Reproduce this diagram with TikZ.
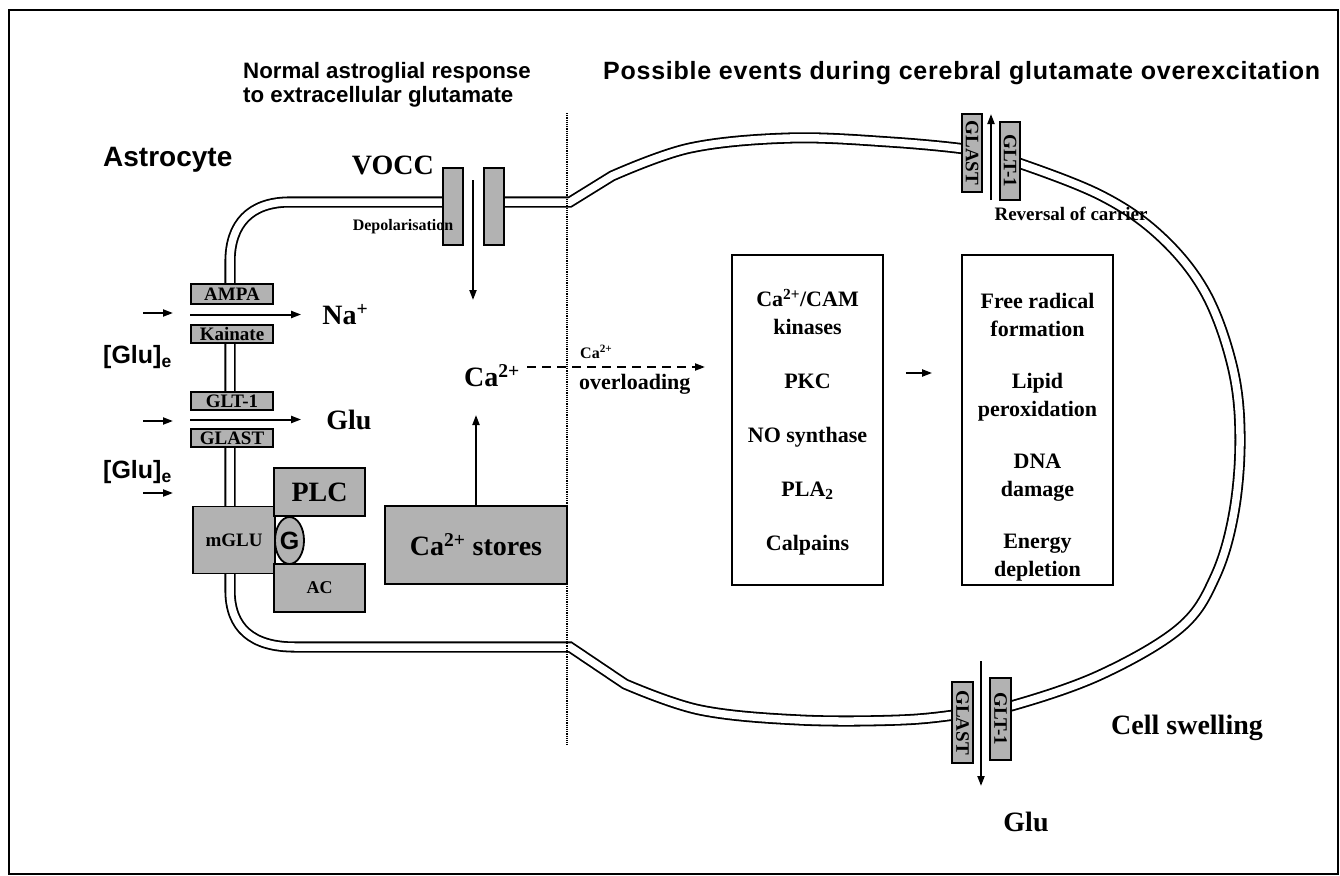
\documentclass[tikz,border=0pt]{standalone}
\usepackage{fontspec}
\setmainfont{Liberation Serif}
\setsansfont{Liberation Sans}
\usetikzlibrary{arrows.meta,calc,positioning,shapes.geometric}

\tikzset{
  mem/.style={line width=1.8pt, double distance=7.5pt, double=white},
  chan/.style={draw, line width=1.8pt, fill=black!30, inner sep=0pt,
    font=\bfseries\fontsize{19}{19}\selectfont},
  arr/.style={-{Triangle[length=10pt,width=7pt]}, line width=2pt},
  lbl/.style={font=\bfseries\fontsize{28}{30}\selectfont, inner sep=0pt},
  note/.style={font=\bfseries\fontsize{19}{22}\selectfont, inner sep=0pt},
  ttl/.style={font=\sffamily\bfseries\fontsize{22.3}{24}\selectfont, inner sep=0pt},
  glu/.style={font=\sffamily\bfseries\fontsize{25}{27}\selectfont, inner sep=0pt},
  evbox/.style={draw, line width=1.8pt, minimum width=151pt, minimum height=330pt,
    inner sep=0pt, align=center, font=\bfseries\fontsize{22}{28}\selectfont}
}

\begin{document}
\begin{tikzpicture}[x=1pt, y=-1pt]
  \useasboundingbox (0,0) rectangle (1340,875);
  % frame
  \draw[line width=2pt] (9,10) rectangle (1338,874);

  % headings
  \node[ttl, anchor=north west, align=left] (ttlA) at (243,62)
    {Normal astroglial response\\to extracellular glutamate};
  \node[ttl, anchor=west, font=\sffamily\bfseries\fontsize{25}{27}\selectfont\addfontfeature{LetterSpace=3}]
    (ttlB) at (603,73) {Possible events during cerebral glutamate overexcitation};

  % cell membrane
  \draw[mem] (570,647) -- (295,647) .. controls (252,647) and (230,628) .. (230,590)
    -- (230,262) .. controls (230,224) and (250,202) .. (290,202) -- (570,202)
    -- plot[smooth, tension=0.6] coordinates {(612,176) (690,148) (790,138) (890,142)
      (972,150) (1010,160) (1100,195) (1160,236) (1205,292) (1232,365) (1240,435)
      (1234,512) (1215,577) (1180,628) (1100,675) (1011,706) (962,714) (900,720)
      (800,720) (700,710) (625,684)} -- cycle;

  % openings in the membrane
  \fill[white] (221,305) rectangle (239,324);
  \fill[white] (221,411) rectangle (239,428);
  \fill[white] (464,194) rectangle (483,212);
  \fill[white] (983,130) rectangle (999,180);
  \fill[white] (974,695) rectangle (989,732);

  % divider
  \draw[densely dotted, line width=1.2pt] (567,113) -- (567,745);

  % receptors and carriers
  \node[chan, minimum width=82pt, minimum height=20pt] (ampa) at (232,294) {AMPA};
  \node[chan, minimum width=82pt, minimum height=18pt] (kai) at (232,334) {Kainate};
  \node[chan, minimum width=82pt, minimum height=18pt] (glt) at (232,401) {GLT-1};
  \node[chan, minimum width=82pt, minimum height=18pt] (glast) at (232,438) {GLAST};
  \node[chan, minimum width=82pt, minimum height=67pt] (mglu) at (234,540) {mGLU};
  \node[chan, minimum width=91pt, minimum height=48pt,
    font=\bfseries\fontsize{28}{28}\selectfont] (plc) at (319.5,492) {PLC};
  \node[chan, minimum width=91pt, minimum height=48pt,
    font=\bfseries\fontsize{18}{18}\selectfont] (ac) at (319.5,588) {AC};
  \node[chan, ellipse, minimum width=29pt, minimum height=47pt,
    font=\sffamily\bfseries\fontsize{25}{25}\selectfont] (gprot) at (289.5,540.5) {G};
  \node[chan, minimum width=182pt, minimum height=78pt,
    font=\bfseries\fontsize{28}{28}\selectfont] (stores) at (476,545) {Ca\textsuperscript{2+} stores};

  \node[chan, minimum width=20pt, minimum height=77pt] (voccA) at (453,206.5) {};
  \node[chan, minimum width=20pt, minimum height=77pt] (voccB) at (494,206.5) {};

  \node[chan, rotate=-90, minimum width=78pt, minimum height=20pt] (glastT) at (972,153) {GLAST};
  \node[chan, rotate=-90, minimum width=78pt, minimum height=20pt] (gltT) at (1010,161) {GLT-1};
  \node[chan, rotate=-90, minimum width=81pt, minimum height=21pt] (glastB) at (962.5,722.5) {GLAST};
  \node[chan, rotate=-90, minimum width=82pt, minimum height=21pt] (gltB) at (1000.5,719) {GLT-1};

  % labels
  \node[font=\sffamily\bfseries\fontsize{28}{30}\selectfont, inner sep=0pt, anchor=west]
    (astro) at (103,160) {Astrocyte};
  \node[lbl, anchor=east] (vocc) at (434,165) {VOCC};
  \node[font=\bfseries\fontsize{16}{18}\selectfont, inner sep=0pt] (depol) at (403,227) {Depolarisation};
  \node[glu, anchor=west] (gluA) at (103,357) {[Glu]\textsubscript{e}};
  \node[glu, anchor=west] (gluB) at (103,472) {[Glu]\textsubscript{e}};
  \node[lbl] (ca) at (492,376) {Ca\textsuperscript{2+}};
  \node[font=\bfseries\fontsize{16}{18}\selectfont, inner sep=0pt, anchor=west] (caOv) at (580,352) {Ca\textsuperscript{2+}};
  \node[font=\bfseries\fontsize{22}{24}\selectfont, inner sep=0pt, anchor=west] (ovl) at (579,384) {overloading};
  \node[note] (rev) at (1071,214) {Reversal of carrier};
  \node[lbl] (swell) at (1187,728) {Cell swelling};
  \node[lbl] (gluOut) at (1026,822) {Glu};

  % event boxes
  \node[evbox] (kin) at (807.5,420)
    {\rule{0pt}{22pt}Ca\textsuperscript{2+}/CAM\\kinases\\[26pt]PKC\\[26pt]NO synthase\\[26pt]PLA\textsubscript{2}\\[26pt]Calpains};
  \node[evbox] (rad) at (1037.5,420)
    {\rule{0pt}{44pt}Free radical\\formation\\[24pt]Lipid\\peroxidation\\[24pt]DNA\\damage\\[24pt]Energy\\\smash{depletion}};

  % ion and glutamate flows
  \coordinate (naIn) at (143,313);
  \coordinate (gluIn) at (143,421);
  \coordinate (mgIn) at (143,493);
  \draw[arr] (naIn) -- ++(30,0);
  \draw[arr] (gluIn) -- ++(30,0);
  \draw[arr] (mgIn) -- ++(30,0);

  \coordinate (naA) at ($(ampa.south west)!0.5!(kai.north west)$);
  \coordinate (naB) at ($(naA)+(111,0)$);
  \draw[arr] (naA) -- (naB);
  \node[lbl, right=21pt of naB] (na) {Na\textsuperscript{+}};

  \coordinate (gA) at ($(glt.south west)!0.5!(glast.north west)$);
  \coordinate (gB) at ($(gA)+(111,0)$);
  \draw[arr] (gA) -- (gB);
  \node[lbl, right=25pt of gB] (gluC) {Glu};

  \coordinate (vTop) at (473,180);
  \coordinate (vEnd) at (473,300);
  \draw[arr] (vTop) -- (vEnd);

  \coordinate (caUp) at (476,415);
  \draw[arr] (stores.north) -- (caUp);

  \coordinate (ovStart) at (527,367);
  \coordinate (ovEnd) at (705,367);
  \draw[arr, dash pattern=on 9pt off 6pt] (ovStart) -- (ovEnd);

  \draw[arr] ([xshift=22pt,yshift=47pt]kin.east) -- ([xshift=-29pt,yshift=47pt]rad.west);

  \coordinate (revA) at (991,200);
  \coordinate (revB) at (991,114);
  \draw[arr] (revA) -- (revB);
  \coordinate (outA) at (981,661);
  \coordinate (outB) at (981,786);
  \draw[arr] (outA) -- (outB);
\end{tikzpicture}
\end{document}
